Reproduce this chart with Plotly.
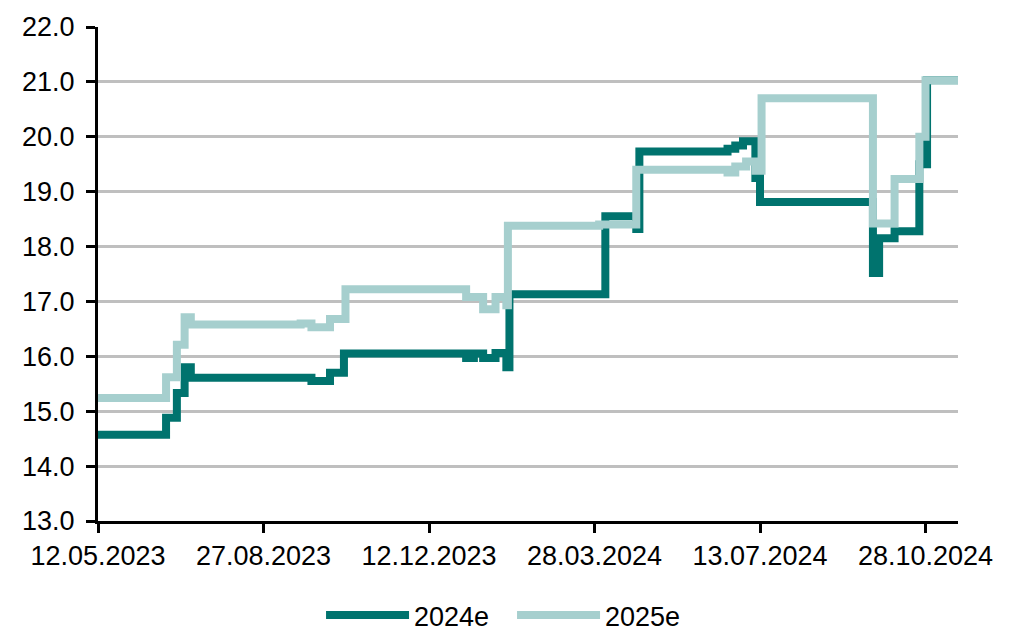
import plotly.graph_objects as go

# Consensus estimates: date of each revision and the value from that date on
dates_2024e = [
    "2023-05-12", "2023-06-25", "2023-07-02", "2023-07-07", "2023-07-11",
    "2023-09-27", "2023-10-09", "2023-10-18", "2024-01-05", "2024-01-10",
    "2024-01-16", "2024-01-24", "2024-01-31", "2024-02-02", "2024-04-04",
    "2024-04-24", "2024-04-26", "2024-06-22", "2024-06-27", "2024-07-02",
    "2024-07-10", "2024-07-13", "2024-09-24", "2024-09-28", "2024-10-08",
    "2024-10-24", "2024-10-29", "2024-11-18",
]
values_2024e = [
    14.57, 14.88, 15.33, 15.80, 15.61,
    15.55, 15.70, 16.05, 15.97, 16.05,
    15.97, 16.06, 15.80, 17.13, 18.55,
    18.32, 19.73, 19.78, 19.84, 19.92,
    19.25, 18.81, 17.52, 18.15, 18.28,
    19.50, 21.03, 21.03,
]

dates_2025e = [
    "2023-05-12", "2023-06-25", "2023-07-02", "2023-07-07", "2023-07-11",
    "2023-09-20", "2023-09-27", "2023-10-09", "2023-10-19", "2024-01-05",
    "2024-01-16", "2024-01-24", "2024-01-31", "2024-02-01", "2024-03-31",
    "2024-04-24", "2024-06-22", "2024-06-27", "2024-07-04", "2024-07-10",
    "2024-07-14", "2024-09-24", "2024-10-08", "2024-10-24", "2024-10-28",
    "2024-11-18",
]
values_2025e = [
    15.24, 15.62, 16.21, 16.71, 16.58,
    16.60, 16.53, 16.68, 17.22, 17.08,
    16.86, 17.08, 16.93, 18.38, 18.40,
    19.40, 19.35, 19.46, 19.55, 19.38,
    20.70, 18.42, 19.23, 20.00, 21.03,
    21.03,
]

x_tick_dates = ["2023-05-12", "2023-08-27", "2023-12-12",
                "2024-03-28", "2024-07-13", "2024-10-28"]
x_tick_text = ["12.05.2023", "27.08.2023", "12.12.2023",
               "28.03.2024", "13.07.2024", "28.10.2024"]
y_ticks = [13, 14, 15, 16, 17, 18, 19, 20, 21, 22]

DARK = "#00736E"
LIGHT = "#A6CFCE"
FONT = "Liberation Sans, Arial, sans-serif"

fig = go.Figure()
fig.add_trace(go.Scatter(
    x=dates_2024e, y=values_2024e, name="2024e", mode="lines",
    line=dict(color=DARK, width=8, shape="hv"),
))
fig.add_trace(go.Scatter(
    x=dates_2025e, y=values_2025e, name="2025e", mode="lines",
    line=dict(color=LIGHT, width=8, shape="hv"),
))

fig.update_layout(
    width=1020, height=632,
    margin=dict(l=98, r=62, t=21, b=111),
    paper_bgcolor="white", plot_bgcolor="white",
    font=dict(family=FONT, size=27, color="black"),
    showlegend=True,
    legend=dict(
        orientation="h",
        xref="container", x=0.502, xanchor="center",
        yref="container", y=0.026, yanchor="middle",
        font=dict(size=27), itemwidth=83, entrywidth=93,
    ),
    xaxis=dict(
        type="date", range=["2023-05-12", "2024-11-18"],
        tickvals=x_tick_dates, ticktext=x_tick_text,
        showgrid=False, zeroline=False,
        showline=True, linecolor="black", linewidth=3,
        ticks="outside", ticklen=9, tickwidth=3, tickcolor="black",
        tickfont=dict(size=27),
    ),
    yaxis=dict(
        range=[13, 22], tickvals=y_ticks, tickformat=".1f",
        showgrid=True, gridcolor="#BFBFBF", gridwidth=3,
        zeroline=False,
        showline=True, linecolor="black", linewidth=3,
        ticks="outside", ticklen=9, tickwidth=3, tickcolor="black",
        tickfont=dict(size=27), ticklabelstandoff=6,
    ),
)

fig.write_html("out.html")
